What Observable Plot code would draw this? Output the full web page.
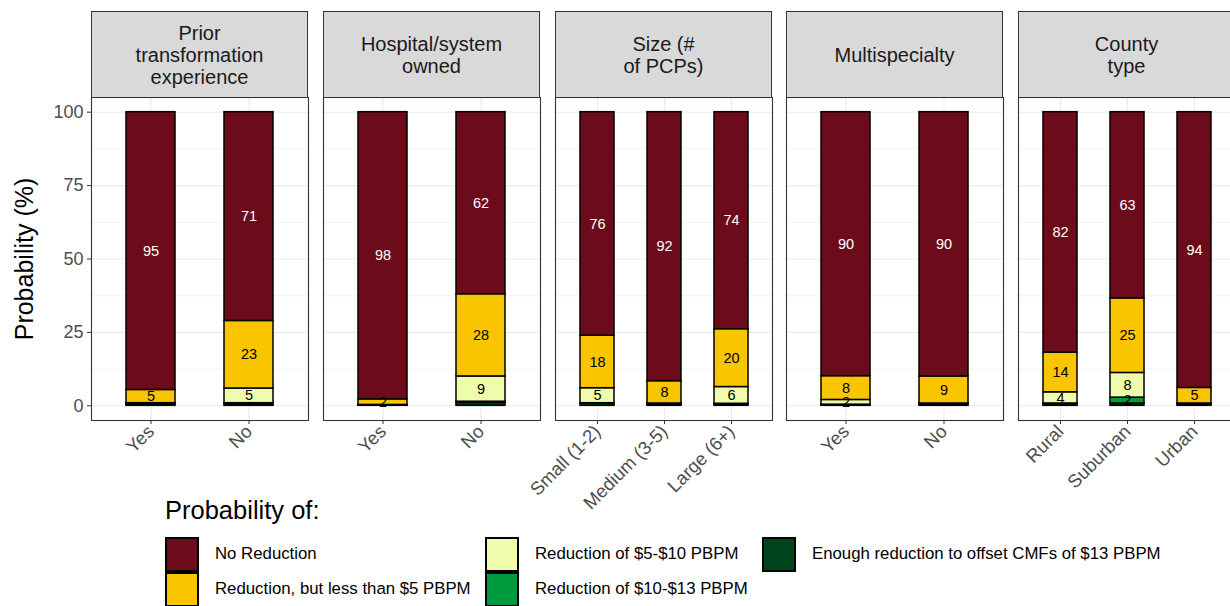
<!DOCTYPE html>
<html><head><meta charset="utf-8">
<script src="https://cdn.jsdelivr.net/npm/d3@7"></script>
<script src="https://cdn.jsdelivr.net/npm/@observablehq/plot@0.6"></script>
<style>
body{margin:0;background:#fff;font-family:"Liberation Sans",Arial,sans-serif;}
#root{position:relative;width:1230px;height:606px;overflow:hidden;background:#fff;}
.strip{position:absolute;box-sizing:border-box;background:#d9d9d9;border:1.1px solid #333;display:flex;align-items:center;justify-content:center;text-align:center;font-size:20px;line-height:22px;color:#1a1a1a;white-space:pre-line;}
.panel{position:absolute;top:0;}
.panel svg{overflow:visible;background:transparent !important;max-width:none !important;font-family:"Liberation Sans",Arial,sans-serif;}
.ytitle{position:absolute;left:24px;top:259px;transform:translate(-50%,-50%) rotate(-90deg);font-size:25px;color:#000;white-space:nowrap;}
.ltitle{position:absolute;left:165px;top:496px;font-size:25.5px;color:#000;}
.lkey{position:absolute;box-sizing:border-box;width:34px;height:35px;border:2px solid #000;}
.llab{position:absolute;font-size:16.8px;color:#000;white-space:nowrap;}
</style></head><body><div id="root"></div>
<script>
const facetTitles = ["Prior\ntransformation\nexperience", "Hospital/system\nowned", "Size (#\nof PCPs)", "Multispecialty", "County\ntype"];
const facetCategories = [["Yes","No"],["Yes","No"],["Small (1-2)","Medium (3-5)","Large (6+)"],["Yes","No"],["Rural","Suburban","Urban"]];
const levels = ["No Reduction","Reduction, but less than $5 PBPM","Reduction of $5-$10 PBPM","Reduction of $10-$13 PBPM","Enough reduction to offset CMFs of $13 PBPM"];
const levelColors = ["#6c0c1b","#f9c400","#effcab","#009a3e","#00441b"];
const noReduction = [[94.6,71.1],[97.8,62.0],[76.1,91.6,73.9],[89.9,90.0],[81.9,63.4,93.9]];
const lessThan5   = [[4.5,23.0],[1.9,28.0],[17.9,7.6,19.7],[8.1,9.2],[13.5,25.4,5.3]];
const from5to10   = [[0.3,5.0],[0.15,8.6],[5.1,0.2,5.7],[1.6,0.2],[3.8,8.4,0.2]];
const from10to13  = [[0.2,0.3],[0.05,0.4],[0.2,0.1,0.2],[0.1,0.1],[0.2,2.0,0.1]];
const enough      = [[0.4,0.6],[0.1,1.0],[0.7,0.5,0.5],[0.3,0.5],[0.6,0.8,0.5]];
const yTicks = [0,25,50,75,100];
const yMinor = [12.5,37.5,62.5,87.5];
const yTitle = "Probability (%)";
const legendTitle = "Probability of:";

const seriesByLevel = [noReduction, lessThan5, from5to10, from10to13, enough];

const root = document.getElementById("root");
const panelLefts = [91, 323, 555, 786, 1018];
const panelWidth = 217;

facetTitles.forEach((title, f) => {
  const cats = facetCategories[f];
  const rows = [];
  cats.forEach((c, j) => {
    for (let k = levels.length - 1; k >= 0; k--) {
      rows.push({cat: c, level: levels[k], value: seriesByLevel[k][f][j]});
    }
  });
  const first = f === 0;
  const ML = first ? 91 : 60, MR = 20;
  const W = ML + panelWidth + MR;
  const lbl = d => d.value >= 1.5 ? String(Math.round(d.value)) : "";
  const marks = [
    Plot.ruleY(yMinor, {stroke: "#ebebeb", strokeWidth: 0.6}),
    Plot.ruleY(yTicks, {stroke: "#ebebeb", strokeWidth: 1.1}),
    Plot.ruleX(cats, {x: d => d, stroke: "#ebebeb", strokeWidth: 1.1}),
    Plot.barY(rows, Plot.stackY({x: "cat", y: "value", fill: "level", stroke: "black", strokeWidth: 1.5})),
    Plot.text(rows, Plot.stackY({x: "cat", y: "value", text: d => d.level === levels[0] ? lbl(d) : "", fill: "white", fontSize: 14.5})),
    Plot.text(rows, Plot.stackY({x: "cat", y: "value", text: d => d.level !== levels[0] ? lbl(d) : "", fill: "black", fontSize: 14.5})),
    Plot.frame({stroke: "#333", strokeWidth: 1.1}),
    Plot.axisX({tickRotate: -45, tickSize: 4, tickPadding: 4, fontSize: 18.5, label: null, stroke: "#333", fill: "#4d4d4d"})
  ];
  if (first) marks.push(Plot.axisY(yTicks, {tickSize: 4, tickPadding: 4, fontSize: 18, label: null, stroke: "#333", fill: "#4d4d4d"}));
  const chart = Plot.plot({
    width: W,
    height: 520,
    marginLeft: ML, marginRight: MR, marginTop: 97, marginBottom: 100,
    style: {fontFamily: "Liberation Sans, Arial, sans-serif", color: "#4d4d4d", background: "transparent", overflow: "visible"},
    x: {domain: cats, paddingInner: 0.5, paddingOuter: 0.35},
    y: first ? {domain: [-5, 105]} : {domain: [-5, 105], axis: null},
    color: {domain: levels, range: levelColors},
    marks
  });
  const wrap = document.createElement("div");
  wrap.className = "panel";
  wrap.style.left = (panelLefts[f] - ML) + "px";
  wrap.style.width = W + "px";
  wrap.appendChild(chart);
  root.appendChild(wrap);

  const strip = document.createElement("div");
  strip.className = "strip";
  strip.style.left = panelLefts[f] + "px";
  strip.style.top = "11px";
  strip.style.width = panelWidth + "px";
  strip.style.height = "87px";
  strip.textContent = title;
  root.appendChild(strip);
});

const yt = document.createElement("div");
yt.className = "ytitle";
yt.textContent = yTitle;
root.appendChild(yt);

const lt = document.createElement("div");
lt.className = "ltitle";
lt.textContent = legendTitle;
root.appendChild(lt);

const colKeyX = [165, 485, 762];
const rowKeyY = [537, 572];
levels.forEach((lv, i) => {
  const col = Math.floor(i / 2), row = i % 2;
  const key = document.createElement("div");
  key.className = "lkey";
  key.style.left = colKeyX[col] + "px";
  key.style.top = rowKeyY[row] + "px";
  key.style.background = levelColors[i];
  root.appendChild(key);
  const lab = document.createElement("div");
  lab.className = "llab";
  lab.style.left = (colKeyX[col] + 50) + "px";
  lab.style.top = (rowKeyY[row] + 7) + "px";
  lab.textContent = lv;
  root.appendChild(lab);
});
</script>
</body></html>
